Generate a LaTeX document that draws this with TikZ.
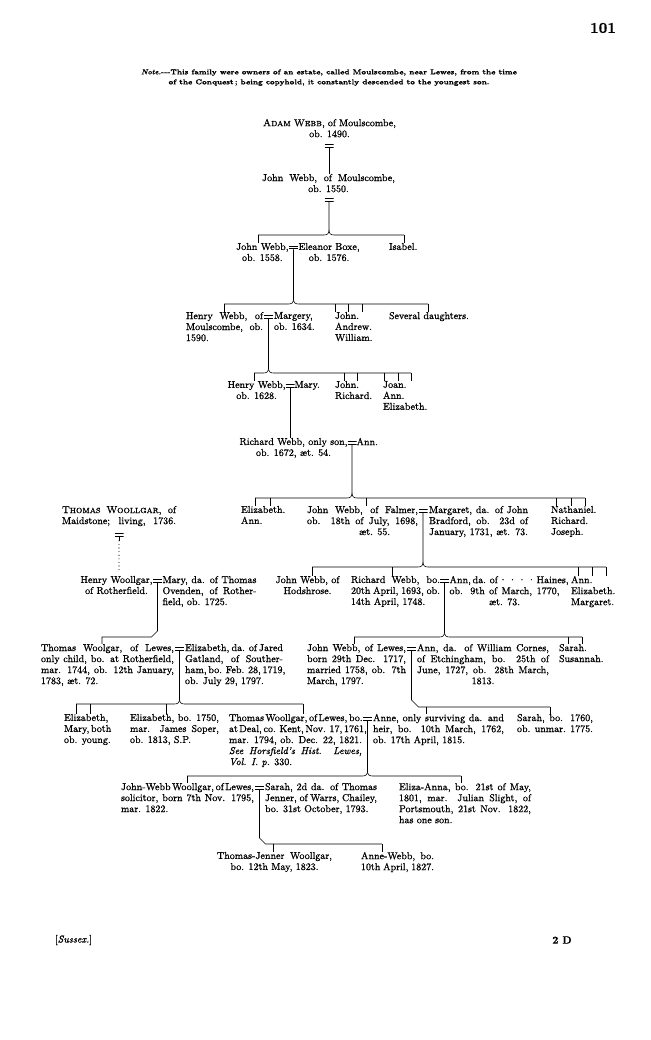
\documentclass[tikz,border=0pt]{standalone}
\usepackage{fontspec}
\setmainfont{lmroman10-regular.otf}[FakeBold=1,
  ItalicFont=lmroman10-italic.otf, BoldFont=lmroman10-bold.otf,
  BoldItalicFont=lmroman10-bolditalic.otf, SmallCapsFont=lmromancaps10-regular.otf]
\newfontfamily\notefont{lmroman7-bold.otf}[FakeBold=0.6, ItalicFont=lmroman10-bolditalic.otf]
\setlength{\parindent}{0pt}
\tikzset{
  person/.style={inner sep=0pt, outer sep=0pt, font=\fontsize{10}{11}\selectfont},
  block/.style={person, anchor=north west, align=left, execute at begin node={\def\bw{#1}}},
  wed/.style={inner sep=0pt, outer sep=0pt, minimum width=9pt, minimum height=3.6pt,
    path picture={\draw[line width=0.6pt] ([yshift=1.3pt]path picture bounding box.west) -- ([yshift=1.3pt]path picture bounding box.east)
      ([yshift=-1.3pt]path picture bounding box.west) -- ([yshift=-1.3pt]path picture bounding box.east);}},
  dotline/.style={line width=1.1pt, line cap=round, dash pattern=on 0pt off 3.6pt}
}
% a line spread to the width of the block, a centred one, a plain one
\newcommand\jl[1]{\makebox[\bw][s]{\spaceskip=.333em plus .8em minus .2em\relax #1}}
\newcommand\cl[1]{\makebox[\bw][c]{#1}}
\newcommand\pl[1]{\makebox[\bw][l]{#1}}
% line of issue: from the marriage sign down to the bar over the children
\newcommand\issue[4]{%
  \coordinate (c) at (#1.south |- 0,#2);
  \draw (#1.south) -- ([yshift=5pt]c) .. controls ([yshift=1.5pt]c) and ([xshift=-1.5pt]c) .. ([xshift=-5pt]c) -- (#3,#2);
  \draw ([yshift=5pt]c) .. controls ([yshift=1.5pt]c) and ([xshift=1.5pt]c) .. ([xshift=5pt]c) -- (#4,#2);}

\begin{document}
\begin{tikzpicture}[x=1pt, y=-1pt, line width=0.6pt]
\fill[white] (0,0) rectangle (650,1040);
\useasboundingbox (0,0) rectangle (650,1040);

% head of the page
\node[inner sep=0pt, font=\fontsize{15}{15}\bfseries\selectfont] (pg) at (603,28) {101};
\node[inner sep=0pt, anchor=north, align=center, font=\notefont\fontsize{7.2}{10}\selectfont] (note) at (329,69)
  {\textit{Note.}---This family were owners of an estate, called Moulscombe, near Lewes, from the time\\of the Conquest\,; being copyhold, it constantly descended to the youngest son.};

% Adam Webb and his son
\node[block=133pt] (adam) at (263,119) {\jl{\textsc{Adam Webb}, of Moulscombe,}\\\cl{ob. 1490.}};
\node[wed] (m1) at (329,146) {};
\node[block=133pt] (jwm) at (262,174) {\jl{John Webb, of Moulscombe,}\\\cl{ob. 1550.}};
\node[wed] (m2) at (329,200) {};
\draw (m1.south) -- (m1.south |- jwm.north);

% children of John Webb
\node[wed] (m3) at (293.5,247.5) {};
\node[person, anchor=north east, align=center] (jw3) at (288.5,243) {John Webb,\\ob. 1558.};
\node[person, anchor=north west, align=center] (eb3) at (298.5,243) {Eleanor Boxe,\\ob. 1576.};
\node[person, anchor=north west] (isa) at (389,243) {Isabel.};
\issue{m2}{235}{258}{404}
\draw (258,235) -- (258,0 |- jw3.north);
\draw (404,235) -- (404,0 |- isa.north);

% children of John Webb and Eleanor Boxe
\node[wed] (m4) at (268.5,316.5) {};
\node[block=77pt] (hw4) at (186,312) {\jl{Henry Webb, of}\\\jl{Moulscombe, ob.}\\1590.};
\node[person, anchor=north west, align=left] (mg4) at (274,312) {Margery,\\ob. 1634.};
\node[person, anchor=north west, align=left] (jaw) at (335,312) {John.\\Andrew.\\William.};
\node[person, anchor=north west] (sev) at (389,312) {Several daughters.};
\issue{m3}{304}{224}{428}
\draw (224,304) -- (224,0 |- hw4.north);
\foreach \tk in {335,348,362} \draw (\tk,304) -- (\tk,0 |- jaw.north);
\draw (428,304) -- (428,0 |- sev.north);

% children of Henry Webb and Margery
\node[wed] (m5) at (290,385.5) {};
\node[person, anchor=north east, align=center] (hw5) at (285.5,381) {Henry Webb,\\ob. 1628.};
\node[person, anchor=north west] (mary5) at (294.5,381) {Mary.};
\node[person, anchor=north west, align=left] (jr5) at (335,381) {John.\\Richard.};
\node[person, anchor=north west, align=left] (jae) at (383,381) {Joan.\\Ann.\\Elizabeth.};
\issue{m4}{373}{254}{411}
\draw (254,373) -- (254,0 |- hw5.north);
\foreach \tk in {344,357} \draw (\tk,373) -- (\tk,0 |- jr5.north);
\foreach \tk in {384,398,411} \draw (\tk,373) -- (\tk,0 |- jae.north);

% Richard Webb, only son
\node[wed] (m6) at (352,442.5) {};
\node[person, anchor=north east, align=center] (rw6) at (347.5,438) {Richard Webb, only son,\\ob. 1672, æt. 54.};
\node[person, anchor=north west] (ann6) at (356.5,438) {Ann.};
\draw (m5.south) -- (m5.south |- rw6.north);

% children of Richard Webb and Ann
\node[block=114pt] (tw7) at (62,506) {\jl{\textsc{Thomas Woollgar}, of}\\\jl{Maidstone; living, 1736.}};
\node[wed] (m7a) at (119,535) {};
\node[person, anchor=north west, align=left] (el7) at (241,506) {Elizabeth.\\Ann.};
\node[block=111pt] (jwf) at (307,506) {\jl{John Webb, of Falmer,}\\\jl{ob. 18th of July, 1698,}\\\pl{\hspace*{52pt}æt. 55.}};
\node[wed] (m7) at (423,510.5) {};
\node[block=99pt] (mgt) at (429,506) {\jl{Margaret, da. of John}\\\jl{Bradford, ob. 23d of}\\\jl{January, 1731, æt. 73.}};
\node[person, anchor=north west, align=left] (nrj) at (551,506) {Nathaniel.\\Richard.\\Joseph.};
\issue{m6}{498}{255}{585}
\foreach \tk in {255,270} \draw (\tk,498) -- (\tk,0 |- el7.north);
\draw (366,498) -- (366,0 |- jwf.north);
\foreach \tk in {556,571,585} \draw (\tk,498) -- (\tk,0 |- nrj.north);
\draw (m7a.south) -- ++(0,4) coordinate (t7);
\draw[dotline] (t7) -- (t7 |- 0,571);

% Henry Woollgar; children of John Webb and Margaret
\node[person, anchor=north east, align=center] (hw8) at (152.5,576) {Henry Woollgar,\\of Rotherfield.};
\node[wed] (m8) at (157.5,580.5) {};
\node[block=94pt] (mary8) at (162.5,576) {\jl{Mary, da. of Thomas}\\\jl{Ovenden, of Rother-}\\field, ob. 1725.};
\node[person, anchor=north, align=center] (jwh) at (307.5,576) {John Webb, of\\Hodshrose.};
\node[block=89pt] (rwb) at (351,576) {\jl{Richard Webb, bo.}\\\jl{20th April, 1693, ob.}\\14th April, 1748.};
\node[wed] (m8b) at (444.5,580.5) {};
\node[block=110pt] (ann8) at (449.5,576) {\jl{Ann, da. of ·\,·\,·\,· Haines,}\\\jl{ob. 9th of March, 1770,}\\\cl{æt. 73.}};
\node[person, anchor=north west, align=left] (aem) at (571,576) {Ann.\\Elizabeth.\\Margaret.};
\issue{m7}{567}{312}{606}
\draw (312,567) -- (312,0 |- jwh.north);
\draw (392,567) -- (392,0 |- rwb.north);
\foreach \tk in {578,592,606} \draw (\tk,567) -- (\tk,0 |- aem.north);

% Thomas Woolgar of Lewes; children of Richard Webb and Ann
\node[block=133pt] (tw9) at (41,644) {\jl{Thomas Woolgar, of Lewes,}\\\jl{only child, bo. at Rotherfield,}\\\jl{mar. 1744, ob. 12th January,}\\1783, æt. 72.};
\node[wed] (m9) at (179.5,648.5) {};
\node[block=98pt] (el9) at (185,644) {\jl{Elizabeth, da. of Jared}\\\jl{Gatland, of Souther-}\\\jl{ham, bo. Feb. 28, 1719,}\\ob. July 29, 1797.};
\node[block=99pt] (jwl) at (307,644) {\jl{John Webb, of Lewes,}\\\jl{born 29th Dec. 1717,}\\\jl{married 1758, ob. 7th}\\March, 1797.};
\node[wed] (m9b) at (411.5,648.5) {};
\node[block=132pt] (acn) at (417,644) {\jl{Ann, da. of William Cornes,}\\\jl{of Etchingham, bo. 25th of}\\\jl{June, 1727, ob. 28th March,}\\\cl{1813.}};
\node[person, anchor=north west, align=left] (sar9) at (559,644) {Sarah.\\Susannah.};
\coordinate (k8) at (m8.south |- 0,637);
\draw (m8.south) -- ([yshift=6pt]k8) -- ([xshift=-6pt]k8) -- (102,637) -- (102,0 |- tw9.north);
\issue{m8b}{637}{354}{582}
\draw (354,637) -- (354,0 |- jwl.north);
\foreach \tk in {568,582} \draw (\tk,637) -- (\tk,0 |- sar9.north);

% children of Thomas Woolgar and Elizabeth; of John Webb and Ann Cornes
\node[person, anchor=north west, align=left] (emb) at (64,714) {Elizabeth,\\Mary,\,both\\ob. young.};
\node[block=89pt] (eb10) at (130,714) {\jl{Elizabeth, bo. 1750,}\\\jl{mar. James Soper,}\\ob. 1813, S.P.};
\node[block=133pt] (tw10) at (229,714) {\jl{Thomas Woollgar, of Lewes, bo.}\\\jl{at Deal, co. Kent, Nov. 17, 1761,}\\\jl{mar. 1794, ob. Dec. 22, 1821.}\\\jl{\itshape See Horsfield’s Hist. Lewes,}\\\textit{Vol. I. p.} 330.};
\node[wed] (m10) at (367.5,718.5) {};
\node[block=131pt] (an10) at (373,714) {\jl{Anne, only surviving da. and}\\\jl{heir, bo. 10th March, 1762,}\\ob. 17th April, 1815.};
\node[block=76pt] (sa10) at (517,714) {\jl{Sarah, bo. 1760,}\\\jl{ob. unmar. 1775.}};
\issue{m9}{704}{76}{303}
\foreach \tk in {76,90} \draw (\tk,704) -- (\tk,0 |- emb.north);
\draw (166,704) -- (166,0 |- eb10.north);
\draw (303,704) -- (303,0 |- tw10.north);
\coordinate (k9) at (m9b.south |- 0,707);
\draw (m9b.south) -- ([yshift=7pt]k9) -- ([xshift=7pt]k9) -- (550,707);
\draw (426,707) -- (426,0 |- an10.north);
\draw (550,707) -- (550,0 |- sa10.north);

% children of Thomas Woollgar and Anne
\node[block=133pt] (jww) at (121,783) {\jl{John-Webb Woollgar, of Lewes,}\\\jl{solicitor, born 7th Nov. 1795,}\\mar. 1822.};
\node[wed] (m11) at (259.5,787.5) {};
\node[block=112pt] (sj11) at (265,783) {\jl{Sarah, 2d da. of Thomas}\\\jl{Jenner, of Warrs, Chailey,}\\bo. 31st October, 1793.};
\node[block=132pt] (eza) at (399,783) {\jl{Eliza-Anna, bo. 21st of May,}\\\jl{1801, mar. Julian Slight, of}\\\jl{Portsmouth, 21st Nov. 1822,}\\has one son.};
\issue{m10}{776}{187}{461}
\draw (187,776) -- (187,0 |- jww.north);
\draw (461,776) -- (461,0 |- eza.north);

% children of John-Webb Woollgar and Sarah
\node[block=115pt] (tjw) at (217,852) {\jl{Thomas-Jenner Woollgar,}\\\cl{bo. 12th May, 1823.}};
\node[block=73pt] (awb) at (361,852) {\jl{Anne-Webb, bo.}\\\jl{10th April, 1827.}};
\coordinate (k11) at (m11.south |- 0,844);
\draw (m11.south) -- ([yshift=6pt]k11) -- ([xshift=6pt]k11) -- (382,844);
\draw (273,844) -- (273,0 |- tjw.north);
\draw (382,844) -- (382,0 |- awb.north);

% foot of the page
\node[inner sep=0pt, font=\fontsize{10}{10}\selectfont] (sus) at (73.5,940) {[\textit{Sussex.}]};
\node[inner sep=0pt, font=\fontsize{10.5}{10.5}\bfseries\selectfont] (sig) at (562,940) {2 D};
\end{tikzpicture}
\end{document}
